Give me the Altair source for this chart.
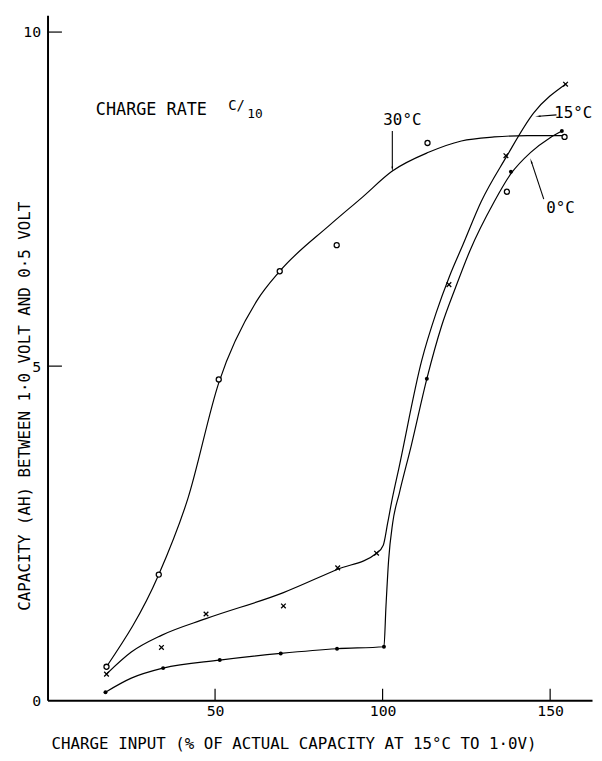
import altair as alt
import pandas as pd

FONT = "DejaVu Sans Mono"

# axis ticks
x_ticks = [50, 100, 150]
y_ticks = [0, 5, 10]
inner_tick_x = [50, 100, 150]
inner_tick_y = [5, 10]

# fitted curves
c30_x = [17.6, 33.2, 41.9, 51.1, 62.5, 69.3, 84.2, 94.0, 102.9, 113.7, 123.5, 133.3, 143.2, 154.0]
c30_y = [0.50, 1.88, 3.02, 4.75, 5.98, 6.42, 7.11, 7.53, 7.92, 8.20, 8.37, 8.43, 8.45, 8.45]
c15_x = [17.6, 25.0, 34.0, 47.3, 70.4, 86.6, 98.2, 100.2, 101.5, 102.9, 104.8, 111.7, 116.0, 120.0, 124.0, 129.4, 136.8, 145.1, 154.6]
c15_y = [0.39, 0.72, 0.97, 1.22, 1.61, 1.96, 2.20, 2.32, 2.65, 3.02, 3.46, 5.09, 5.80, 6.35, 6.82, 7.46, 8.12, 8.79, 9.22]
c0_x = [17.3, 25.0, 34.5, 51.4, 69.6, 86.4, 100.4, 101.0, 101.8, 103.0, 105.0, 108.5, 113.2, 117.6, 121.8, 126.0, 133.3, 138.3, 144.2, 150.0, 153.5]
c0_y = [0.12, 0.33, 0.48, 0.60, 0.70, 0.77, 0.80, 1.40, 2.10, 2.65, 3.10, 3.80, 4.81, 5.60, 6.18, 6.72, 7.46, 7.88, 8.20, 8.42, 8.52]

# measured points
p30_x = [17.6, 33.2, 51.1, 69.3, 86.3, 113.4, 137.1, 154.3]
p30_y = [0.50, 1.88, 4.80, 6.42, 6.81, 8.34, 7.61, 8.43]
p15_x = [17.6, 34.0, 47.3, 70.4, 86.6, 98.2, 119.8, 136.8, 154.6]
p15_y = [0.39, 0.79, 1.29, 1.41, 1.98, 2.20, 6.22, 8.15, 9.22]
p0_x = [17.3, 34.5, 51.4, 69.6, 86.4, 100.4, 113.2, 138.3, 153.5]
p0_y = [0.12, 0.48, 0.60, 0.70, 0.77, 0.80, 4.81, 7.91, 8.52]

# annotations
ann_text = ["CHARGE RATE", "C/", "10", "30°C", "15°C", "0°C"]
ann_x = [31.0, 56.4, 61.9, 105.9, 156.9, 153.1]
ann_y = [8.83, 8.90, 8.77, 8.68, 8.79, 7.36]
ann_size = [17, 14, 13, 16, 16, 16]

arr_x = [102.9, 151.9, 148.1]
arr_y = [8.52, 8.76, 7.50]
arr_x2 = [102.9, 146.6, 144.4]
arr_y2 = [7.96, 8.74, 8.06]
arr_angle = [180, 270, 342]

XDOM = [0, 162.5]
YDOM = [0, 10.25]

xaxis = alt.Axis(values=x_ticks, tickSize=0, domainWidth=2, domainColor="black",
                 labelFont=FONT, labelFontSize=15, labelColor="black", labelPadding=4,
                 grid=False, labelFlush=False,
                 title="CHARGE INPUT (% OF ACTUAL CAPACITY AT 15°C TO 1·0V)",
                 titleFont=FONT, titleFontSize=16, titleFontWeight="normal", titleColor="black",
                 titleX=249, titleY=44, titleAlign="center", titleBaseline="middle")
yaxis = alt.Axis(values=y_ticks, tickSize=0, domainWidth=2, domainColor="black",
                 labelFont=FONT, labelFontSize=15, labelColor="black", labelPadding=7,
                 grid=False, labelFlush=False,
                 title="CAPACITY (AH) BETWEEN 1·0 VOLT AND 0·5 VOLT",
                 titleFont=FONT, titleFontSize=16, titleFontWeight="normal", titleColor="black",
                 titleAngle=270, titleX=-23, titleY=395, titleAlign="center", titleBaseline="middle")

xs = alt.Scale(domain=XDOM, nice=False, zero=False)
ys = alt.Scale(domain=YDOM, nice=False, zero=False)


def X(f="x"):
    return alt.X(f"{f}:Q", scale=xs, axis=xaxis)


def Y(f="y"):
    return alt.Y(f"{f}:Q", scale=ys, axis=yaxis)


curves = pd.concat([
    pd.DataFrame({"s": "30", "x": c30_x, "y": c30_y, "o": range(len(c30_x))}),
    pd.DataFrame({"s": "15", "x": c15_x, "y": c15_y, "o": range(len(c15_x))}),
    pd.DataFrame({"s": "0", "x": c0_x, "y": c0_y, "o": range(len(c0_x))}),
])

lines = alt.Chart(curves).mark_line(color="black", strokeWidth=1.2, interpolate="monotone").encode(
    x=X(), y=Y(), detail="s:N", order="o:Q")

pts30 = alt.Chart(pd.DataFrame({"x": p30_x, "y": p30_y})).mark_point(
    shape="circle", filled=True, fill="white", stroke="black", strokeWidth=1.3, size=26, opacity=1
).encode(x=X(), y=Y())
pts15 = alt.Chart(pd.DataFrame({"x": p15_x, "y": p15_y})).mark_point(
    shape="M-1,-1L1,1M1,-1L-1,1", filled=False, stroke="black", strokeWidth=1.3, size=22, opacity=1
).encode(x=X(), y=Y())
pts0 = alt.Chart(pd.DataFrame({"x": p0_x, "y": p0_y})).mark_point(
    shape="circle", filled=True, color="black", size=16, opacity=1
).encode(x=X(), y=Y())

ticks_x = alt.Chart(pd.DataFrame({"x": inner_tick_x, "y": [0] * 3, "y2": [0.17] * 3})).mark_rule(
    color="black", strokeWidth=1.2).encode(x=X(), y=Y(), y2="y2:Q")
ticks_y = alt.Chart(pd.DataFrame({"y": inner_tick_y, "x": [0] * 2, "x2": [4.3] * 2})).mark_rule(
    color="black", strokeWidth=1.2).encode(x=X(), x2="x2:Q", y=Y())

texts = alt.Chart(pd.DataFrame({"t": ann_text, "x": ann_x, "y": ann_y, "fs": ann_size})).mark_text(
    font=FONT, color="black", align="center", baseline="middle").encode(
    x=X(), y=Y(), text="t:N", size=alt.Size("fs:Q", scale=None))

arrows = alt.Chart(pd.DataFrame({"x": arr_x, "y": arr_y, "x2": arr_x2, "y2": arr_y2})).mark_rule(
    color="black", strokeWidth=1.1).encode(x=X(), y=Y(), x2="x2:Q", y2="y2:Q")
heads = alt.Chart(pd.DataFrame({"x": arr_x2, "y": arr_y2, "a": arr_angle})).mark_point(
    shape="wedge", filled=True, color="black", size=40, opacity=1).encode(
    x=X(), y=Y(), angle=alt.Angle("a:Q", scale=None))

chart = alt.layer(lines, ticks_x, ticks_y, arrows, heads, pts30, pts15, pts0, texts).properties(
    width=551, height=693,
    autosize=alt.AutoSizeParams(type="none"),
    padding={"left": 40, "top": 3, "right": 2, "bottom": 49},
    background="white",
).configure_view(stroke=None)

chart.save("out.html", embed_options={"renderer": "svg", "actions": False})
